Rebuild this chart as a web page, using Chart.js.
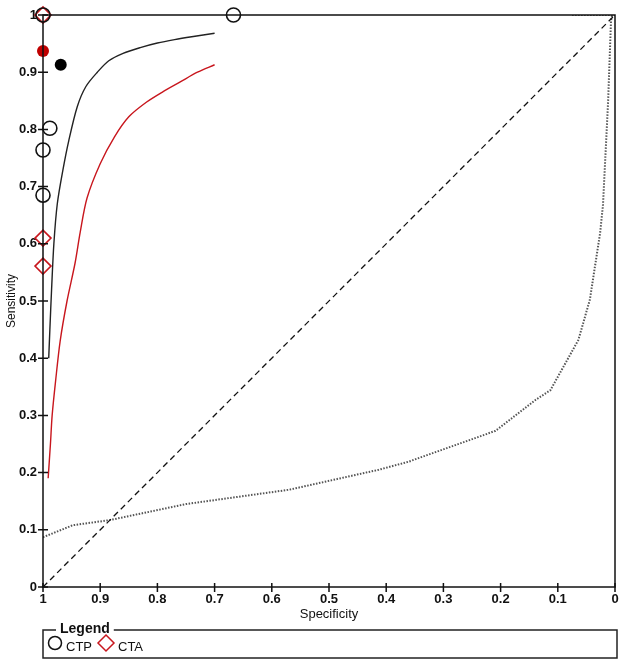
<!DOCTYPE html>
<html>
<head>
<meta charset="utf-8">
<style>
  html, body { margin: 0; padding: 0; background: #fff; }
</style>
</head>
<body>
<canvas id="sroc" width="625" height="665"></canvas>

<script src="https://cdn.jsdelivr.net/npm/chart.js"></script>
<script>
// study points (specificity, sensitivity)
const ctpSpec = [1, 0.667, 0.988, 1, 1]
const ctpSens = [1, 1, 0.802, 0.764, 0.685]
const ctaSpec = [1, 1, 1]
const ctaSens = [1, 0.61, 0.561]

// summary points
const ctpSummary = [0.969, 0.913]
const ctaSummary = [1.0, 0.937]

// SROC curves
const ctpCurveSpec = [0.99, 0.988, 0.985, 0.981, 0.975, 0.965, 0.955, 0.94, 0.925, 0.905, 0.885, 0.86, 0.83, 0.80, 0.77, 0.74, 0.70]
const ctpCurveSens = [0.40, 0.45, 0.52, 0.60, 0.67, 0.73, 0.78, 0.84, 0.875, 0.90, 0.92, 0.933, 0.943, 0.951, 0.957, 0.962, 0.968]
const ctaCurveSpec = [0.991, 0.987, 0.984, 0.978, 0.97, 0.958, 0.944, 0.935, 0.923, 0.90, 0.875, 0.85, 0.82, 0.79, 0.76, 0.73, 0.70]
const ctaCurveSens = [0.19, 0.25, 0.30, 0.36, 0.43, 0.50, 0.566, 0.62, 0.68, 0.74, 0.787, 0.822, 0.847, 0.866, 0.883, 0.90, 0.913]

// chance line and dotted curve
const chanceSpec = [1, 0]
const chanceSens = [0, 1]
const dotSpec = [1, 0.948, 0.883, 0.75, 0.57, 0.413, 0.361, 0.209, 0.139, 0.113, 0.064, 0.044, 0.026, 0.021, 0.012, 0.007, 0.005]
const dotSens = [0.087, 0.108, 0.117, 0.145, 0.17, 0.205, 0.219, 0.273, 0.327, 0.344, 0.432, 0.502, 0.619, 0.668, 0.85, 0.99, 1.0]
const dotTopSpec = [0.075, 0]
const dotTopSens = [1, 1]

const tickVals = [0, 0.1, 0.2, 0.3, 0.4, 0.5, 0.6, 0.7, 0.8, 0.9, 1]

const RED = '#c8161d'
const FONT = "'Liberation Sans Narrow', 'Arial Narrow', 'Liberation Sans', sans-serif"

function pts(xs, ys) {
  return xs.map((x, i) => ({x: x, y: ys[i]}))
}

// frame + crossing tick marks
const framePlugin = {
  id: 'frame',
  afterDatasetsDraw: (chart) => {
    const {ctx} = chart
    const {top, bottom, left, right} = chart.chartArea
    ctx.save()
    ctx.strokeStyle = '#111'
    ctx.lineWidth = 1.5
    ctx.strokeRect(left, top, right - left, bottom - top)
    ctx.beginPath()
    tickVals.forEach(v => {
      const y = chart.scales.y.getPixelForValue(v)
      ctx.moveTo(left - 5, y)
      ctx.lineTo(left + 5, y)
      const x = chart.scales.x.getPixelForValue(v)
      ctx.moveTo(x, bottom - 4)
      ctx.lineTo(x, bottom + 5)
    })
    ctx.stroke()
    ctx.restore()
  }
}

// the boxed legend under the axis
const legendBox = {
  id: 'legendBox',
  afterDraw: (chart) => {
    const {ctx} = chart
    const {left, right} = chart.chartArea
    const top = 630, bottom = 658
    ctx.save()
    ctx.strokeStyle = '#222'
    ctx.lineWidth = 1.5
    ctx.strokeRect(left, top, right + 2 - left, bottom - top)
    ctx.font = 'bold 14px ' + FONT
    ctx.textBaseline = 'middle'
    const w = ctx.measureText('Legend').width
    ctx.fillStyle = '#fff'
    ctx.fillRect(left + 13, top - 3, w + 8, 6)
    ctx.fillStyle = '#111'
    ctx.fillText('Legend', left + 17, top - 1)

    const cy = 645
    ctx.lineWidth = 1.5
    ctx.strokeStyle = '#111'
    ctx.beginPath()
    ctx.arc(left + 12, cy - 2, 6.5, 0, Math.PI * 2)
    ctx.stroke()
    ctx.font = '13px ' + FONT
    ctx.fillText('CTP', left + 23, cy + 2)
    ctx.strokeStyle = RED
    ctx.beginPath()
    ctx.moveTo(left + 63, cy - 10)
    ctx.lineTo(left + 71, cy - 2)
    ctx.lineTo(left + 63, cy + 6)
    ctx.lineTo(left + 55, cy - 2)
    ctx.closePath()
    ctx.stroke()
    ctx.fillStyle = '#111'
    ctx.fillText('CTA', left + 75, cy + 2)
    ctx.restore()
  }
}

const ctx = document.getElementById('sroc')

new Chart(ctx, {
  type: 'scatter',
  data: {
    datasets: [
      {
        label: 'chance',
        data: pts(chanceSpec, chanceSens),
        showLine: true,
        borderColor: '#111',
        borderWidth: 1.3,
        borderDash: [6, 4],
        pointRadius: 0
      },
      {
        label: 'dotted',
        data: pts(dotSpec, dotSens),
        showLine: true,
        borderColor: '#555',
        borderWidth: 2,
        borderDash: [1.5, 1.5],
        pointRadius: 0
      },
      {
        label: 'dottedTop',
        data: pts(dotTopSpec, dotTopSens),
        showLine: true,
        borderColor: '#555',
        borderWidth: 2,
        borderDash: [1.5, 1.5],
        pointRadius: 0
      },
      {
        label: 'CTP SROC',
        data: pts(ctpCurveSpec, ctpCurveSens),
        showLine: true,
        borderColor: '#222',
        borderWidth: 1.4,
        pointRadius: 0,
        tension: 0.3
      },
      {
        label: 'CTA SROC',
        data: pts(ctaCurveSpec, ctaCurveSens),
        showLine: true,
        borderColor: RED,
        borderWidth: 1.4,
        pointRadius: 0,
        tension: 0.3
      },
      {
        label: 'CTP',
        data: pts(ctpSpec, ctpSens),
        pointStyle: 'circle',
        pointRadius: 7,
        borderColor: '#111',
        borderWidth: 1.6,
        backgroundColor: 'rgba(0,0,0,0)',
        clip: false
      },
      {
        label: 'CTA',
        data: pts(ctaSpec, ctaSens),
        pointStyle: 'rectRot',
        pointRadius: 8,
        borderColor: RED,
        borderWidth: 1.6,
        backgroundColor: 'rgba(0,0,0,0)',
        clip: false
      },
      {
        label: 'CTP summary',
        data: [{x: ctpSummary[0], y: ctpSummary[1]}],
        pointRadius: 6,
        borderWidth: 0,
        backgroundColor: '#000',
        clip: false
      },
      {
        label: 'CTA summary',
        data: [{x: ctaSummary[0], y: ctaSummary[1]}],
        pointRadius: 6,
        borderWidth: 0,
        backgroundColor: '#c00000',
        clip: false
      }
    ]
  },
  options: {
    responsive: false,
    animation: false,
    layout: {
      padding: {top: 15, right: 10, bottom: 43, left: 0}
    },
    scales: {
      x: {
        type: 'linear',
        reverse: true,
        min: 0,
        max: 1,
        afterBuildTicks: (scale) => { scale.ticks = tickVals.map(v => ({value: v})) },
        afterFit: (scale) => { scale.height = 35 },
        grid: {display: false, drawTicks: false},
        border: {display: false},
        ticks: {
          color: '#111',
          padding: 5,
          maxRotation: 0,
          font: {family: FONT, size: 13, weight: 'bold'},
          callback: (v) => String(Math.round(v * 10) / 10)
        },
        title: {
          display: true,
          text: 'Specificity',
          color: '#111',
          padding: {top: 0, bottom: 0},
          font: {family: FONT, size: 13}
        }
      },
      y: {
        type: 'linear',
        min: 0,
        max: 1,
        afterBuildTicks: (scale) => { scale.ticks = tickVals.map(v => ({value: v})) },
        afterFit: (scale) => { scale.width = 43 },
        grid: {display: false, drawTicks: false},
        border: {display: false},
        ticks: {
          color: '#111',
          padding: 6,
          font: {family: FONT, size: 13, weight: 'bold'},
          callback: (v) => String(Math.round(v * 10) / 10)
        },
        title: {
          display: true,
          text: 'Sensitivity',
          color: '#111',
          padding: {top: 4, bottom: 0},
          font: {family: FONT, size: 12}
        }
      }
    },
    plugins: {
      legend: {display: false},
      tooltip: {enabled: false}
    }
  },
  plugins: [framePlugin, legendBox]
})
</script>
</body>
</html>
